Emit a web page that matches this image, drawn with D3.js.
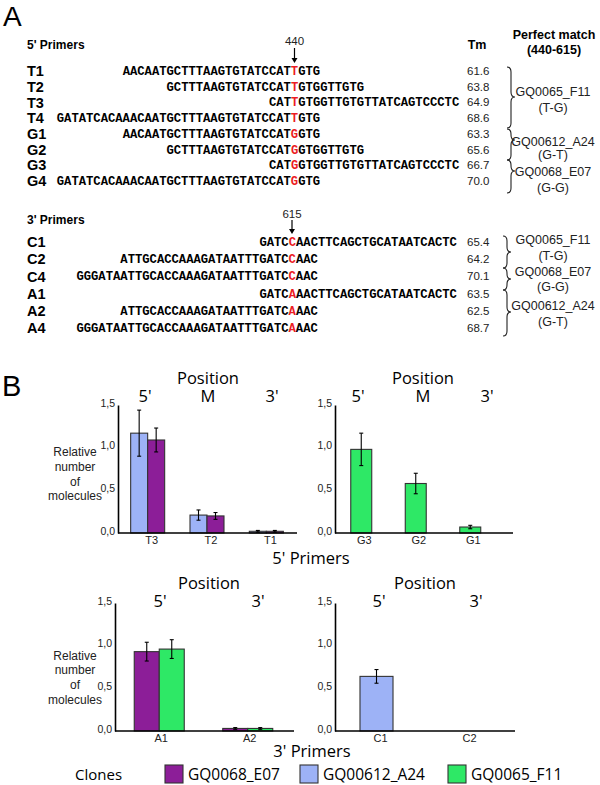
<!DOCTYPE html>
<html>
<head>
<meta charset="utf-8">
<script src="https://cdn.jsdelivr.net/npm/d3@7"></script>
<style>
body { margin: 0; background: #fff; }
</style>
</head>
<body>
<svg width="600" height="785"></svg>
<script>
// ---- panel A data ----
var primers5 = ["T1", "T2", "T3", "T4", "G1", "G2", "G3", "G4"];
var seq5Left = ["AACAATGCTTTAAGTGTATCCAT", "GCTTTAAGTGTATCCAT", "CAT", "GATATCACAAACAATGCTTTAAGTGTATCCAT",
                "AACAATGCTTTAAGTGTATCCAT", "GCTTTAAGTGTATCCAT", "CAT", "GATATCACAAACAATGCTTTAAGTGTATCCAT"];
var seq5Snp = ["T", "T", "T", "T", "G", "G", "G", "G"];
var seq5Right = ["GTG", "GTGGTTGTG", "GTGGTTGTGTTATCAGTCCCTC", "GTG",
                 "GTG", "GTGGTTGTG", "GTGGTTGTGTTATCAGTCCCTC", "GTG"];
var tm5 = ["61.6", "63.8", "64.9", "68.6", "63.3", "65.6", "66.7", "70.0"];

var primers3 = ["C1", "C2", "C4", "A1", "A2", "A4"];
var seq3Left = ["GATC", "ATTGCACCAAAGATAATTTGATC", "GGGATAATTGCACCAAAGATAATTTGATC",
                "GATC", "ATTGCACCAAAGATAATTTGATC", "GGGATAATTGCACCAAAGATAATTTGATC"];
var seq3Snp = ["C", "C", "C", "A", "A", "A"];
var seq3Right = ["AACTTCAGCTGCATAATCACTC", "AAC", "AAC", "AACTTCAGCTGCATAATCACTC", "AAC", "AAC"];
var tm3 = ["65.4", "64.2", "70.1", "63.5", "62.5", "68.7"];

var match5 = [["GQ0065_F11", "(T-G)"], ["GQ00612_A24", "(G-T)"], ["GQ0068_E07", "(G-G)"]];
var match3 = [["GQ0065_F11", "(T-G)"], ["GQ0068_E07", "(G-G)"], ["GQ00612_A24", "(G-T)"]];

// ---- panel B data ----
var clones = ["GQ0068_E07", "GQ00612_A24", "GQ0065_F11"];
var cloneColors = ["#8c1e98", "#9db2f6", "#2ee866"];

var tCats = ["T3", "T2", "T1"];
var tA24 = [1.17, 0.21, 0.02], tA24Err = [0.27, 0.06, 0.01];
var tE07 = [1.09, 0.20, 0.02], tE07Err = [0.14, 0.04, 0.01];

var gCats = ["G3", "G2", "G1"];
var gF11 = [0.98, 0.58, 0.07], gF11Err = [0.19, 0.12, 0.02];

var aCats = ["A1", "A2"];
var aE07 = [0.93, 0.03], aE07Err = [0.11, 0.01];
var aF11 = [0.96, 0.03], aF11Err = [0.11, 0.01];

var cCats = ["C1", "C2"];
var cA24 = [0.64, 0.0], cA24Err = [0.08, 0.0];

var yTicks = [0, 0.5, 1.0, 1.5];
var pos3 = ["5'", "M", "3'"];
var pos2 = ["5'", "3'"];
var yTitle = ["Relative", "number", "of", "molecules"];

var svg = d3.select("svg");
var sans = "'Liberation Sans', Arial, sans-serif";
var mono = "'Liberation Mono', 'Courier New', monospace";
var myriad = "'Open Sans', sans-serif";
var red = "#ec1c24";

function label(x, y, txt, size, weight, anchor, fam, fill) {
    return svg.append("text")
        .attr("x", x).attr("y", y)
        .attr("font-family", fam || sans)
        .attr("font-size", size)
        .attr("font-weight", weight || "normal")
        .attr("text-anchor", anchor || "start")
        .attr("fill", fill || "#000")
        .text(txt);
}

function arrow(x, y0, y1) {
    svg.append("line").attr("x1", x).attr("x2", x).attr("y1", y0).attr("y2", y1 - 4)
        .attr("stroke", "#000").attr("stroke-width", 1.2);
    svg.append("path").attr("d", "M" + (x - 3) + "," + (y1 - 5) + "L" + (x + 3) + "," + (y1 - 5) + "L" + x + "," + y1 + "Z")
        .attr("fill", "#000");
}

// right-pointing curly brace
function brace(x0, y0, y1, ym) {
    var w = 8, h = w / 2, r = 5;
    var d = "M" + x0 + "," + y0 +
        "Q" + (x0 + h) + "," + y0 + " " + (x0 + h) + "," + (y0 + r) +
        "L" + (x0 + h) + "," + (ym - r) +
        "Q" + (x0 + h) + "," + ym + " " + (x0 + w) + "," + ym +
        "Q" + (x0 + h) + "," + ym + " " + (x0 + h) + "," + (ym + r) +
        "L" + (x0 + h) + "," + (y1 - r) +
        "Q" + (x0 + h) + "," + y1 + " " + x0 + "," + y1;
    svg.append("path").attr("d", d).attr("fill", "none").attr("stroke", "#222").attr("stroke-width", 1.1);
}

function seqRows(names, left, snp, right, tm, yc, snpLeft) {
    var cw = 7.32;
    names.forEach(function (n, i) {
        var y = yc[i];
        label(27, y + 5.2, n, 14.5, "bold");
        var t = svg.append("text")
            .attr("x", snpLeft - left[i].length * cw).attr("y", y + 4)
            .attr("font-family", mono).attr("font-size", 12.2).attr("font-weight", "bold");
        t.append("tspan").text(left[i]);
        t.append("tspan").attr("fill", red).text(snp[i]);
        t.append("tspan").text(right[i]);
        label(467, y + 4, tm[i], 11.5, "normal", "start", sans, "#222");
    });
}

// ---------- panel A ----------
label(3, 25.5, "A", 28);
label(27, 49, "5' Primers", 12, "bold");
label(477, 49, "Tm", 12.5, "bold", "middle");
label(554, 39, "Perfect match", 12.5, "bold", "middle");
label(554, 54, "(440-615)", 12.5, "bold", "middle");

label(294.5, 45, "440", 11.5, "normal", "middle", sans, "#222");
arrow(294.5, 48, 63);

var y5 = primers5.map(function (d, i) { return 71 + i * 15.7; });
seqRows(primers5, seq5Left, seq5Snp, seq5Right, tm5, y5, 291);

brace(507, 67, 128, 97);
brace(507, 129, 160, 140);
brace(507, 160, 193, 171);
var m5y = [[96, 112], [146, 159], [176, 192]];
match5.forEach(function (m, i) {
    label(553, m5y[i][0], m[0], 12.5, "normal", "middle", sans, "#222");
    label(553, m5y[i][1], m[1], 12.5, "normal", "middle", sans, "#222");
});

label(27, 224, "3' Primers", 12, "bold");
label(292, 218, "615", 11.5, "normal", "middle", sans, "#222");
arrow(292, 220, 234);

var y3 = primers3.map(function (d, i) { return 242 + i * 17.2; });
seqRows(primers3, seq3Left, seq3Snp, seq3Right, tm3, y3, 288.7);

brace(503, 236, 268, 252);
brace(503, 268, 290, 279);
brace(503, 290, 336, 312);
var m3y = [[244, 260], [276, 291], [310, 326]];
match3.forEach(function (m, i) {
    label(553, m3y[i][0], m[0], 12.5, "normal", "middle", sans, "#222");
    label(553, m3y[i][1], m[1], 12.5, "normal", "middle", sans, "#222");
});

// ---------- panel B ----------
label(2, 396, "B", 29);

var fmtTick = function (d) { return d3.format(".1f")(d).replace(".", ","); };

function barChart(o) {
    var g = svg.append("g");
    var x = d3.scaleBand().domain(o.cats).range(o.range)
        .paddingInner(o.pad).paddingOuter(o.pad / 2);
    var xs = d3.scaleBand().domain(o.series.map(function (s) { return s.name; }))
        .range([0, x.bandwidth()]);
    var y = d3.scaleLinear().domain([0, 1.5]).range([o.yBase, o.yTop]);

    o.series.forEach(function (s) {
        var color = cloneColors[clones.indexOf(s.name)];
        o.cats.forEach(function (c, i) {
            var v = s.values[i];
            if (v <= 0) return;
            var bx = x(c) + xs(s.name);
            g.append("rect")
                .attr("x", bx).attr("y", y(v))
                .attr("width", xs.bandwidth()).attr("height", y(0) - y(v))
                .attr("fill", color).attr("stroke", "#333").attr("stroke-width", 1.1);
            var e = s.errs[i];
            if (e > 0) {
                var cx = bx + xs.bandwidth() / 2;
                g.append("line").attr("x1", cx).attr("x2", cx)
                    .attr("y1", y(v + e)).attr("y2", y(Math.max(0, v - e)))
                    .attr("stroke", "#000").attr("stroke-width", 1.1);
                [v + e, Math.max(0, v - e)].forEach(function (t) {
                    g.append("line").attr("x1", cx - 2).attr("x2", cx + 2)
                        .attr("y1", y(t)).attr("y2", y(t))
                        .attr("stroke", "#000").attr("stroke-width", 1.1);
                });
            }
        });
    });

    var ax = g.append("g").attr("transform", "translate(" + o.axisX + ",0)")
        .call(d3.axisLeft(y).tickValues(yTicks).tickSize(0).tickSizeOuter(0).tickPadding(3).tickFormat(fmtTick));
    ax.select(".domain").attr("stroke", "#000").attr("stroke-width", 1.6);
    ax.selectAll("text").attr("font-family", sans).attr("font-size", 10.5).attr("fill", "#222")
        .attr("dy", "0.1em");

    g.append("line").attr("x1", o.axisX).attr("x2", o.axisEnd)
        .attr("y1", o.yBase).attr("y2", o.yBase)
        .attr("stroke", "#000").attr("stroke-width", 1.6);

    var bx = g.append("g").attr("transform", "translate(" + o.labelDx + "," + o.yBase + ")")
        .call(d3.axisBottom(x).tickSize(0).tickPadding(3));
    bx.select(".domain").remove();
    bx.selectAll("text").attr("font-family", sans).attr("font-size", 11).attr("fill", "#222");

    label(o.head.x, o.head.y, "Position", 16.5, "normal", "middle", myriad);
    o.head.pos.forEach(function (p, i) {
        label(o.head.px[i], o.head.y + 18, p, 16.5, "normal", "middle", myriad);
    });
}

barChart({
    cats: tCats, range: [118, 296], pad: 0.427, axisX: 118, axisEnd: 297,
    yBase: 533, yTop: 405, labelDx: 4,
    series: [{ name: "GQ00612_A24", values: tA24, errs: tA24Err },
             { name: "GQ0068_E07", values: tE07, errs: tE07Err }],
    head: { x: 208, y: 384, pos: pos3, px: [145, 208, 272] }
});
barChart({
    cats: gCats, range: [334, 497.5], pad: 0.615, axisX: 335, axisEnd: 513,
    yBase: 533, yTop: 405, labelDx: 3,
    series: [{ name: "GQ0065_F11", values: gF11, errs: gF11Err }],
    head: { x: 423, y: 384, pos: pos3, px: [358, 423, 487] }
});
barChart({
    cats: aCats, range: [115, 292], pad: 0.435, axisX: 115, axisEnd: 294,
    yBase: 731, yTop: 603, labelDx: 2,
    series: [{ name: "GQ0068_E07", values: aE07, errs: aE07Err },
             { name: "GQ0065_F11", values: aF11, errs: aF11Err }],
    head: { x: 209, y: 589, pos: pos2, px: [160, 258] }
});
barChart({
    cats: cCats, range: [332, 510], pad: 0.629, axisX: 335, axisEnd: 515,
    yBase: 731, yTop: 603, labelDx: 4,
    series: [{ name: "GQ00612_A24", values: cA24, errs: cA24Err }],
    head: { x: 425, y: 589, pos: pos2, px: [379, 476] }
});

[[456, 471, 486, 500], [660, 674, 689, 704]].forEach(function (ys) {
    yTitle.forEach(function (t, i) {
        label(75, ys[i], t, 12, "normal", "middle", sans, "#222");
    });
});

label(311, 564, "5' Primers", 16.5, "normal", "middle", myriad);
label(312, 757, "3' Primers", 16.5, "normal", "middle", myriad);

// legend
label(75, 780, "Clones", 15, "normal", "start", myriad);
var legX = [165, 300, 448];
clones.forEach(function (c, i) {
    svg.append("rect").attr("x", legX[i]).attr("y", 765).attr("width", 18).attr("height", 18)
        .attr("fill", cloneColors[i]).attr("stroke", "#333").attr("stroke-width", 1.1);
    label(legX[i] + 23, 780, c, 15.5, "normal", "start", myriad);
});
</script>
</body>
</html>
